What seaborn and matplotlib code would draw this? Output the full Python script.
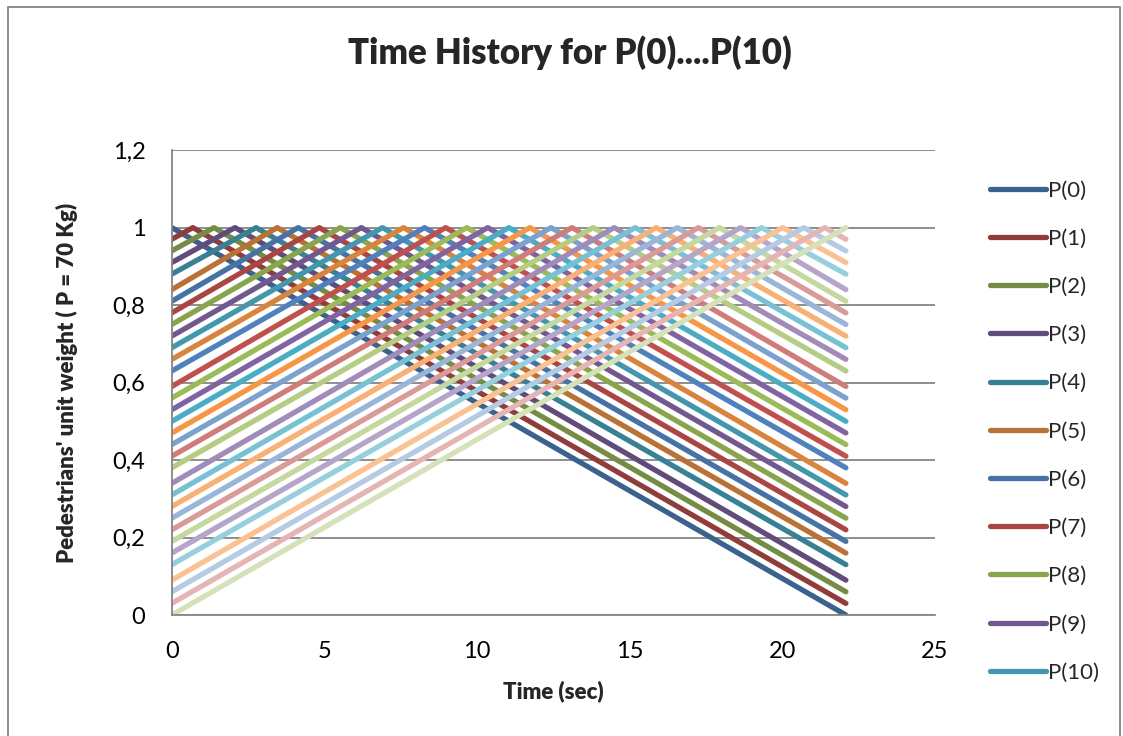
import matplotlib
matplotlib.use('Agg')
import matplotlib.pyplot as plt
import matplotlib.colors as mcolors
import pandas as pd
import seaborn as sns
from matplotlib.patches import Rectangle

# Values: every series is a triangle
# (t=0, start) -> (peak time, 1) -> (t_end, end)
series_names = ['P(%d)' % i for i in range(33)]
peak_times = [0.00, 0.69, 1.38, 2.07, 2.76, 3.45, 4.14, 4.83, 5.52, 6.21, 6.90,
              7.59, 8.28, 8.97, 9.66, 10.35, 11.04, 11.73, 12.42, 13.11, 13.80,
              14.49, 15.18, 15.87, 16.56, 17.25, 17.94, 18.63, 19.32, 20.01,
              20.70, 21.39, 22.08]
start_values = [1.00, 0.97, 0.94, 0.91, 0.88, 0.84, 0.81, 0.78, 0.75, 0.72, 0.69,
                0.66, 0.63, 0.59, 0.56, 0.53, 0.50, 0.47, 0.44, 0.41, 0.38,
                0.34, 0.31, 0.28, 0.25, 0.22, 0.19, 0.16, 0.13, 0.09, 0.06,
                0.03, 0.00]
end_values = [0.00, 0.03, 0.06, 0.09, 0.13, 0.16, 0.19, 0.22, 0.25, 0.28, 0.31,
              0.34, 0.38, 0.41, 0.44, 0.47, 0.50, 0.53, 0.56, 0.59, 0.63,
              0.66, 0.69, 0.72, 0.75, 0.78, 0.81, 0.84, 0.88, 0.91, 0.94,
              0.97, 1.00]
peak_value = 1.0
t_end = 22.08
legend_count = 11

# long table for seaborn
rows = []
for name, tp, v0, v1 in zip(series_names, peak_times, start_values, end_values):
    rows.append((name, 0.0, v0))
    rows.append((name, tp, peak_value))
    rows.append((name, t_end, v1))
df = pd.DataFrame(rows, columns=['series', 'time', 'value'])

# Excel-like colour cycle: accent colours, from darker shades to lighter tints
base = ['#4F81BD', '#C0504D', '#9BBB59', '#8064A2', '#4BACC6', '#F79646']
levels = [-0.25, -0.12, 0.0, 0.25, 0.42, 0.58]


def adjust(hex_color, f):
    r, g, b = mcolors.to_rgb(hex_color)
    if f < 0:
        return (r * (1 + f), g * (1 + f), b * (1 + f))
    return (r + (1 - r) * f, g + (1 - g) * f, b + (1 - b) * f)


palette = {name: adjust(base[i % 6], levels[i // 6]) for i, name in enumerate(series_names)}

sns.set_style('white')
plt.rcParams['font.family'] = ['Lato', 'DejaVu Sans']

fig = plt.figure(figsize=(11.23, 7.36), dpi=100)
ax = fig.add_axes([0.153, 0.1644, 0.6796, 0.6316])

sns.lineplot(data=df, x='time', y='value', hue='series', palette=palette,
             sort=False, estimator=None, linewidth=3.8, legend=False, ax=ax)
for ln in ax.lines:
    ln.set_solid_capstyle('round')
    ln.set_solid_joinstyle('round')

ax.set_xlim(0, 25)
ax.set_ylim(0, 1.2)
ax.set_xticks([0, 5, 10, 15, 20, 25])
ax.set_yticks([0, 0.2, 0.4, 0.6, 0.8, 1.0, 1.2])
ax.set_xticklabels(['0', '5', '10', '15', '20', '25'])
ax.set_yticklabels(['0', '0,2', '0,4', '0,6', '0,8', '1', '1,2'])
ax.tick_params(axis='both', labelsize=17, length=0, pad=19, colors='#000000')
ax.yaxis.grid(True, color='#868686', linewidth=1.3)
ax.set_axisbelow(True)
for side in ['top', 'right']:
    ax.spines[side].set_visible(False)
for side in ['left', 'bottom']:
    ax.spines[side].set_color('#868686')
    ax.spines[side].set_linewidth(1.3)

ax.set_xlabel('Time (sec)', fontsize=16, fontweight='heavy', labelpad=13)
ax.set_ylabel("Pedestrians' unit weight ( P = 70 Kg)", fontsize=16,
              fontweight='heavy', labelpad=25)
fig.text(0.5076, 0.929, 'Time History for P(0)....P(10)', ha='center', va='center',
         fontsize=25, fontweight='heavy')

handles = ax.lines[:legend_count]
leg = fig.legend(handles, series_names[:legend_count], loc='upper left',
                 bbox_to_anchor=(0.864, 0.782), frameon=False, fontsize=16,
                 handlelength=2.5, handletextpad=0.12, labelspacing=1.27)
for h in leg.get_lines():
    h.set_linewidth(3.8)

fig.patches.append(Rectangle((0.007, -0.01), 0.99, 1.0, transform=fig.transFigure,
                             fill=False, edgecolor='#868686', linewidth=1.3))

fig.savefig('out.png', dpi=100)
